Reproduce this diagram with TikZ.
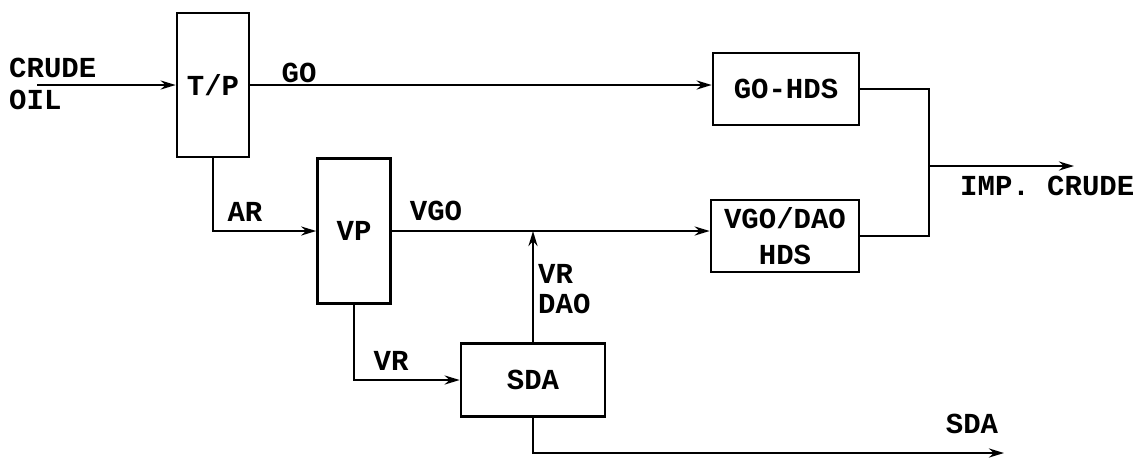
\documentclass[tikz,border=0pt]{standalone}
\usepackage{fontspec}
\setmainfont{Liberation Mono}
\usetikzlibrary{arrows.meta,calc}
\tikzset{
  unit/.style={draw, line width=2.6pt, inner sep=0pt, align=center, font=\bfseries\fontsize{29}{36}\selectfont},
  lbl/.style={inner sep=0pt, font=\bfseries\fontsize{29}{33}\selectfont},
  flow/.style={line width=2.8pt},
  arr/.style={flow, -{Stealth[length=15pt,width=9pt]}},
}
\begin{document}
\begin{tikzpicture}[x=1pt,y=-1pt]
\useasboundingbox (0,0) rectangle (1144,459);
% units
\node[unit, minimum width=72pt, minimum height=144pt] (tp) at (213,85) {T/P};
\node[unit, minimum width=73pt, minimum height=145pt] (vp) at (354,231) {VP};
\node[unit, minimum width=146pt, minimum height=72pt] (gohds) at (786,89) {GO-HDS};
\node[unit, minimum width=148pt, minimum height=72pt] (vgohds) at (785,236) {VGO/DAO\\HDS};
\node[unit, minimum width=144pt, minimum height=73pt] (sda) at (533,380) {SDA};
% free ends
\coordinate (crudein) at (37,85);
\coordinate (join) at (929,166);
\coordinate (impend) at (1074,166);
\coordinate (sdaend) at (1004,453);
% labels
\node[lbl, anchor=west, align=left] (crudelbl) at (9,84) {CRUDE\\[-1pt]OIL};
\node[lbl] (golbl) at (299,73) {GO};
\node[lbl] (arlbl) at (245,212) {AR};
\node[lbl] (vgolbl) at (436,211) {VGO};
\node[lbl, anchor=west, align=left] (vrdaolbl) at (538,289) {VR\\[-3pt]DAO};
\node[lbl] (vrlbl) at (391,361) {VR};
\node[lbl, anchor=west] (implbl) at (960,186) {IMP. CRUDE};
\node[lbl] (sdalbl) at (972,424) {SDA};
% connectors
\draw[arr] (crudein) -- (tp.west);
\draw[arr] (tp.east) -- (tp.east -| gohds.west);
\draw[arr] (tp.south) |- (vp.west);
\draw[arr] (vp.east) -- (vp.east -| vgohds.west);
\draw[arr] (vp.south) |- (sda.west);
\draw[arr] (sda.north) -- (sda.north |- vp.east);
\draw[flow] (gohds.east) -| (join);
\draw[flow] (vgohds.east) -| (join);
\draw[arr] (join) -- (impend);
\draw[arr] (sda.south) |- (sdaend);
\end{tikzpicture}
\end{document}
